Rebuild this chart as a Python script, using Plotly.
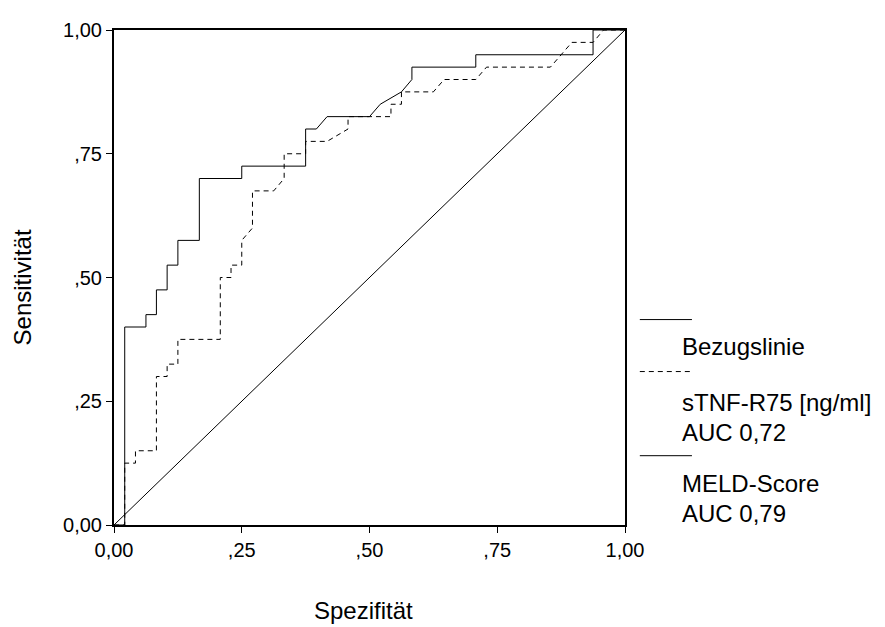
import plotly.graph_objects as go

# ROC data (1 - specificity on x, sensitivity on y)
meld_fpr = [0.0, 0.021, 0.021, 0.0625, 0.0625, 0.083, 0.083, 0.104, 0.104, 0.125, 0.125,
            0.167, 0.167, 0.25, 0.25, 0.375, 0.375, 0.396, 0.417, 0.50, 0.521, 0.5625,
            0.583, 0.583, 0.708, 0.708, 0.9375, 0.9375, 1.0]
meld_sens = [0.0, 0.0, 0.40, 0.40, 0.425, 0.425, 0.475, 0.475, 0.525, 0.525, 0.575,
             0.575, 0.70, 0.70, 0.725, 0.725, 0.80, 0.80, 0.825, 0.825, 0.85, 0.875,
             0.90, 0.925, 0.925, 0.95, 0.95, 1.0, 1.0]

stnf_fpr = [0.0, 0.021, 0.021, 0.042, 0.042, 0.083, 0.083, 0.104, 0.104, 0.125, 0.125,
            0.208, 0.208, 0.229, 0.229, 0.25, 0.25, 0.271, 0.271, 0.3125, 0.333, 0.333,
            0.375, 0.375, 0.417, 0.458, 0.458, 0.542, 0.542, 0.5625, 0.5625, 0.625,
            0.646, 0.708, 0.729, 0.854, 0.896, 0.9375, 0.958, 1.0]
stnf_sens = [0.0, 0.0, 0.125, 0.125, 0.15, 0.15, 0.30, 0.30, 0.325, 0.325, 0.375,
             0.375, 0.50, 0.50, 0.525, 0.525, 0.575, 0.60, 0.675, 0.675, 0.70, 0.75,
             0.75, 0.775, 0.775, 0.80, 0.825, 0.825, 0.85, 0.85, 0.875, 0.875,
             0.90, 0.90, 0.925, 0.925, 0.975, 0.975, 1.0, 1.0]

ref_x = [0.0, 1.0]
ref_y = [0.0, 1.0]

tick_vals = [0.0, 0.25, 0.5, 0.75, 1.0]
tick_text = ["0,00", ",25", ",50", ",75", "1,00"]

legend_labels = ["Bezugslinie", "sTNF-R75 [ng/ml]", "AUC 0,72", "MELD-Score", "AUC 0,79"]

FONT = "Liberation Sans, Arial, sans-serif"
DASH = "5px,4px"

fig = go.Figure()
fig.add_trace(go.Scatter(x=ref_x, y=ref_y, mode="lines",
                         line=dict(color="black", width=1), name="Bezugslinie"))
fig.add_trace(go.Scatter(x=stnf_fpr, y=stnf_sens, mode="lines",
                         line=dict(color="black", width=1, dash=DASH),
                         name="sTNF-R75 [ng/ml]"))
fig.add_trace(go.Scatter(x=meld_fpr, y=meld_sens, mode="lines",
                         line=dict(color="black", width=1), name="MELD-Score"))

axis_style = dict(range=[0, 1], tickvals=tick_vals, ticktext=tick_text,
                  ticks="outside", ticklen=6, tickcolor="black", tickwidth=1,
                  showline=True, linecolor="black", linewidth=2, mirror=True,
                  showgrid=False, zeroline=False, tickfont=dict(size=20, color="black"))
fig.update_xaxes(**axis_style)
fig.update_yaxes(**axis_style)

# hand-drawn legend: sample line above each label, as in the original
legend_lines = [(0.415, "solid"), (0.310, DASH), (0.140, "solid")]
for y, dash in legend_lines:
    fig.add_shape(type="line", xref="paper", yref="paper", x0=1.029, x1=1.131,
                  y0=y, y1=y, line=dict(color="black", width=1, dash=dash))

label_y = [0.360, 0.247, 0.186, 0.083, 0.024]
annotations = [dict(text=t, xref="paper", yref="paper", x=1.108, y=y,
                    xanchor="left", yanchor="middle", showarrow=False,
                    font=dict(size=24, color="black"))
               for t, y in zip(legend_labels, label_y)]

# axis titles
annotations.append(dict(text="Spezifität", xref="paper", yref="paper", x=0.489, y=-0.172,
                        xanchor="center", yanchor="middle", showarrow=False,
                        font=dict(size=24, color="black")))
annotations.append(dict(text="Sensitivität", xref="paper", yref="paper", x=-0.180, y=0.480,
                        xanchor="center", yanchor="middle", showarrow=False, textangle=-90,
                        font=dict(size=24, color="black")))

# the page body keeps an 8px margin, so the figure is 8px smaller than the window
fig.update_layout(
    width=877, height=619,
    margin=dict(l=106, r=260, t=11, b=102),
    paper_bgcolor="white", plot_bgcolor="white",
    font=dict(family=FONT, color="black"),
    showlegend=False,
    annotations=annotations,
)

fig.write_html("out.html")
